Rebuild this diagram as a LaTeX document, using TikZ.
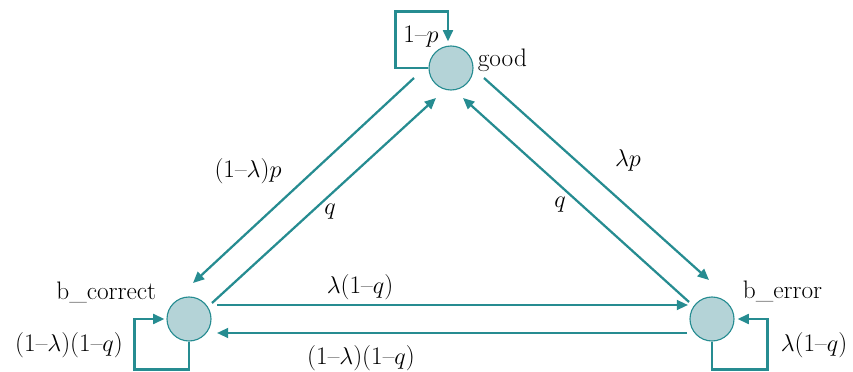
\documentclass[tikz,border=0pt]{standalone}
\usetikzlibrary{positioning,arrows.meta}
\definecolor{tealline}{HTML}{268C91}
\definecolor{tealfill}{HTML}{B4D3D7}

\begin{document}
\begin{tikzpicture}[
  font=\fontsize{18}{21}\selectfont,
  state/.style={circle, draw=tealline, line width=0.8pt, fill=tealfill,
                minimum size=1.1cm, inner sep=0pt},
  arr/.style={-{Triangle[length=8pt, width=7pt]}, line width=1.6pt, tealline},
  lbl/.style={inner sep=1pt}
]
\useasboundingbox (0,0) rectangle (21.325,9.3);
% ---------------- States ----------------
\node[state] (good) at (11.275,7.6) {};
\node[state] (bc) at (4.725,1.325) {};
\node[state] (be) at (17.8,1.325) {};
\node[anchor=west, inner sep=0pt] (tgood) at ([xshift=0.1cm, yshift=0.2cm]good.east) {good};
\node[anchor=east, inner sep=0pt] (tbc) at ([xshift=-0.25cm, yshift=0.675cm]bc.west) {b\_correct};
\node[anchor=west, inner sep=0pt] (tbe) at ([xshift=0.2cm, yshift=0.7cm]be.east) {b\_error};
% ---------------- Self loops ----------------
\draw[arr] (good.west) -- ++(-0.825,0)
  |- ([xshift=-0.075cm, yshift=0.85cm]good.north)
  -- ([xshift=-0.075cm, yshift=0.1cm]good.north);
\draw[arr] (bc.south) -- ++(0,-0.7) -| ([xshift=-0.8cm]bc.west)
  -- ([xshift=-0.05cm]bc.west);
\draw[arr] (be.south) -- ++(0,-0.7) -| ([xshift=0.825cm]be.east)
  -- ([xshift=0.075cm]be.east);
\node[lbl] (lgg) at (10.525,8.375) {1--$p$};
\node[lbl] (lcc) at (1.725,0.675) {(1--$\lambda$)(1--$q$)};
\node[lbl] (lee) at (20.35,0.675) {$\lambda$(1--$q$)};
% ---------------- Transitions ----------------
\draw[arr] ([xshift=-0.925cm, yshift=-0.25cm]good.center) -- ([xshift=0.1cm, yshift=0.9cm]bc.center);
\draw[arr] ([xshift=0.575cm, yshift=0.4cm]bc.center) -- ([xshift=-0.375cm, yshift=-0.75cm]good.center);
\draw[arr] ([xshift=0.825cm, yshift=-0.25cm]good.center) -- ([xshift=-0.075cm, yshift=0.975cm]be.center);
\draw[arr] ([xshift=-0.575cm, yshift=0.425cm]be.center) -- ([xshift=0.3cm, yshift=-0.75cm]good.center);
\draw[arr] ([xshift=0.7cm, yshift=0.35cm]bc.center) -- ([xshift=-0.6cm, yshift=0.35cm]be.center);
\draw[arr] ([xshift=-0.625cm, yshift=-0.35cm]be.center) -- ([xshift=0.7cm, yshift=-0.35cm]bc.center);
\node[lbl] (lgc) at (6.2,5.025) {(1--$\lambda$)$p$};
\node[lbl] (lcg) at (8.25,4.0) {$q$};
\node[lbl] (lge) at (15.7,5.3) {$\lambda p$};
\node[lbl] (leg) at (14.0,4.175) {$q$};
\node[lbl] (lce) at (9.0,2.125) {$\lambda$(1--$q$)};
\node[lbl] (lec) at (9.025,0.35) {(1--$\lambda$)(1--$q$)};
\end{tikzpicture}
\end{document}
